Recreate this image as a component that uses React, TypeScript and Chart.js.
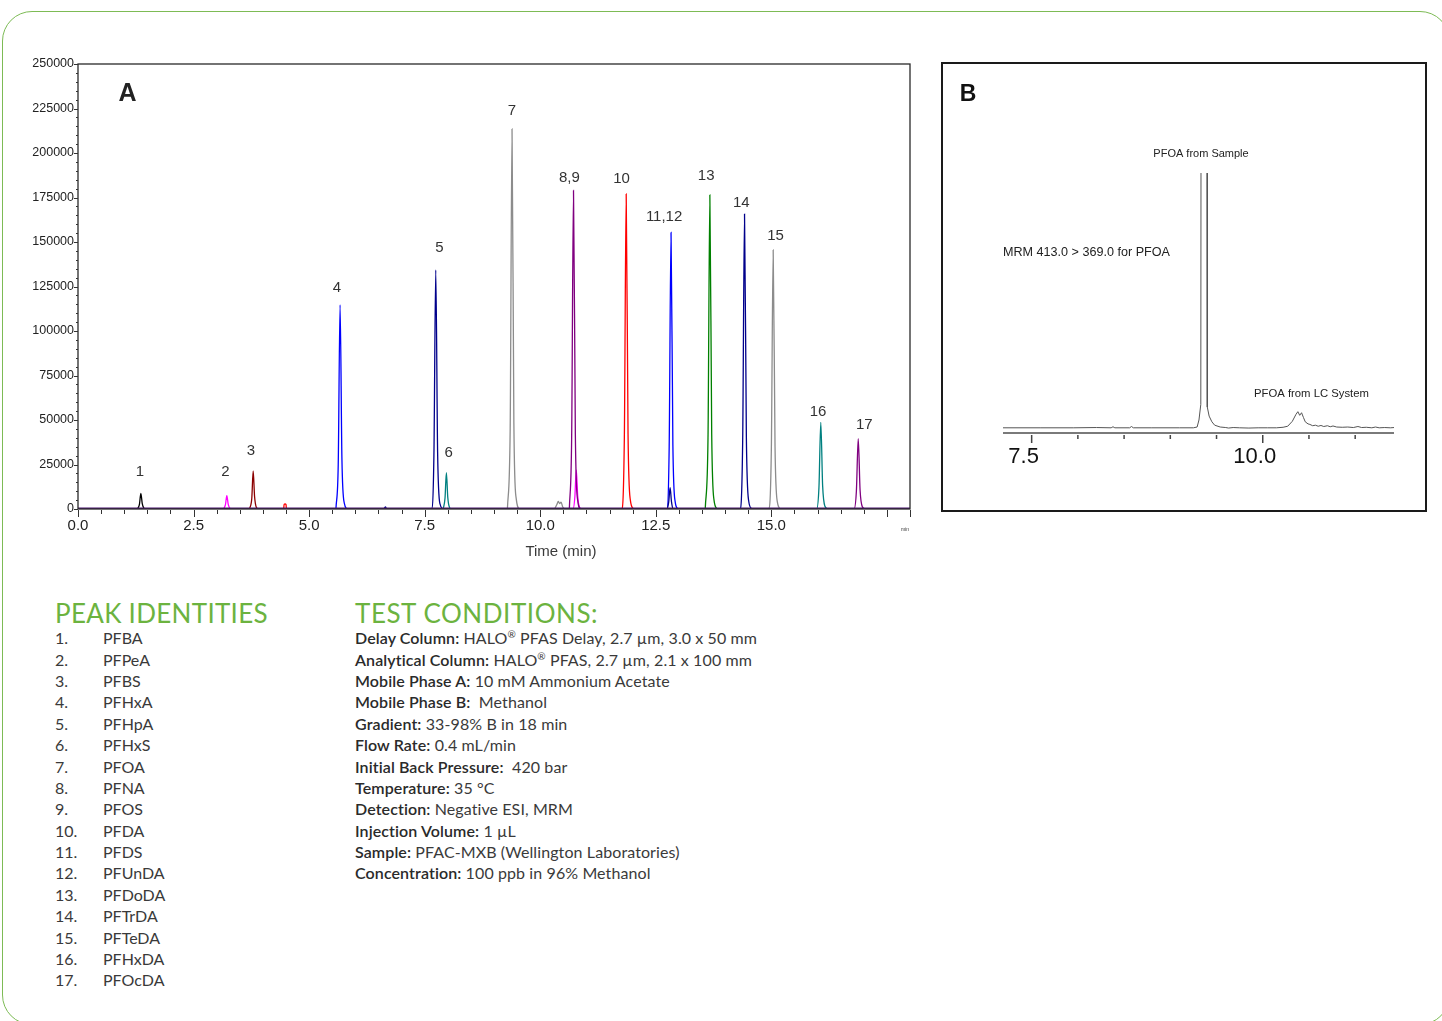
import React, { useEffect, useRef } from "react";
import { Chart, registerables } from "chart.js";

Chart.register(...registerables);

// ---------- Chart A data: time (min), intensity ----------
const baselineTrace = [[0, 0], [18, 0]];
const blackTrace = [[1.29, 0], [1.33, 2800], [1.36, 8800], [1.39, 3000], [1.43, 300], [1.47, 0]];
const magentaTrace = [
  [3.15, 0], [3.19, 2400], [3.22, 7500], [3.25, 2600], [3.29, 300], [3.33, 0],
  [10.71, 0], [10.75, 7000], [10.78, 21900], [10.81, 7500], [10.85, 900], [10.90, 0],
];
const maroonTrace = [[3.71, 0], [3.76, 6000], [3.79, 21350], [3.82, 7000], [3.86, 800], [3.90, 0]];
const redTrace = [
  [4.45, 0], [4.46, 2600], [4.48, 2800], [4.50, 2600], [4.51, 0],
  [11.76, 0], [11.82, 40000], [11.86, 177000], [11.90, 42000], [11.95, 5000], [12.02, 0],
];
const blueTrace = [
  [5.58, 0], [5.63, 25000], [5.67, 114600], [5.71, 28000], [5.76, 3500], [5.84, 0],
  [12.74, 0], [12.79, 35000], [12.83, 155400], [12.87, 36000], [12.92, 4000], [12.98, 0],
];
const navyTrace = [
  [6.62, 0], [6.65, 1200], [6.68, 0],
  [7.65, 0], [7.70, 30000], [7.74, 134300], [7.78, 32000], [7.83, 3000], [7.91, 0],
  [12.74, 0], [12.78, 4000], [12.81, 12000], [12.84, 4000], [12.88, 0],
  [14.32, 0], [14.38, 38000], [14.42, 165700], [14.46, 40000], [14.51, 4500], [14.58, 0],
];
const tealTrace = [
  [7.90, 0], [7.94, 6000], [7.97, 20400], [8.00, 6500], [8.04, 700], [8.08, 0],
  [15.98, 0], [16.03, 12000], [16.07, 48700], [16.11, 13000], [16.16, 1500], [16.22, 0],
];
const grayTrace = [
  [9.29, 0], [9.35, 45000], [9.39, 213500], [9.43, 48000], [9.48, 6000], [9.56, 0],
  [10.30, 0], [10.36, 2500], [10.39, 4200], [10.42, 3000], [10.45, 3800], [10.49, 1000], [10.55, 0],
  [14.94, 0], [15.00, 33000], [15.04, 145500], [15.08, 35000], [15.13, 4000], [15.20, 0],
];
const purpleTrace = [
  [10.63, 0], [10.68, 40000], [10.72, 179000], [10.76, 42000], [10.81, 5000], [10.88, 0],
  [16.79, 0], [16.84, 10000], [16.88, 39500], [16.92, 10500], [16.97, 1200], [17.03, 0],
];
const greenTrace = [[13.57, 0], [13.63, 40000], [13.67, 176400], [13.71, 42000], [13.76, 5000], [13.83, 0]];

const peakLabels = ["1", "2", "3", "4", "5", "6", "7", "8,9", "10", "11,12", "13", "14", "15", "16", "17"];
const labelTimes = [1.34, 3.19, 3.74, 5.60, 7.82, 8.02, 9.39, 10.63, 11.76, 12.68, 13.59, 14.35, 15.09, 16.01, 17.01];
const labelValues = [21100, 21100, 32400, 124500, 146700, 31800, 223600, 186300, 185200, 164000, 187400, 172100, 153700, 54500, 47000];

const xTicksA = { min: 0, max: 18, major: 2.5, minor: 0.5 };
const yTicksA = { min: 0, max: 250000, major: 25000, minor: 5000 };

// ---------- Chart B data: PFOA MRM 413.0 > 369.0 ----------
const pfoaTrace = [
  [7.19, 2.0], [7.60, 2.0], [7.95, 2.0], [8.20, 2.1], [8.36, 2.0], [8.38, 2.4], [8.40, 2.0],
  [8.56, 2.0], [8.58, 2.5], [8.60, 2.0], [8.80, 2.0], [9.10, 2.0], [9.25, 2.0], [9.29, 2.3],
  [9.31, 5.0], [9.33, 11], [9.333, 150], [9.365, 2000], [9.397, 150], [9.40, 10], [9.42, 6.5],
  [9.45, 4.3], [9.48, 3.0], [9.54, 2.3], [9.60, 2.1], [9.63, 1.9], [9.68, 2.1], [9.75, 2.0],
  [9.85, 1.9], [9.95, 2.0], [10.05, 2.0], [10.15, 2.0], [10.22, 2.2], [10.27, 2.6], [10.32, 4.5],
  [10.36, 7.2], [10.38, 8.2], [10.40, 6.8], [10.42, 7.8], [10.44, 6.0], [10.46, 4.3], [10.49, 3.5],
  [10.51, 3.3], [10.54, 2.8], [10.57, 3.0], [10.60, 2.6], [10.63, 2.9], [10.66, 2.5], [10.70, 2.8],
  [10.73, 2.4], [10.76, 2.7], [10.80, 2.3], [10.86, 2.2], [10.92, 2.3], [10.98, 2.1], [11.03, 2.5],
  [11.07, 2.1], [11.12, 2.2], [11.18, 2.0], [11.22, 2.3], [11.26, 2.0], [11.32, 2.1], [11.38, 2.0],
  [11.42, 2.1],
];
const xTicksB = { min: 7.19, max: 11.42, major: 2.5, minor: 0.5, first: 7.5, last: 11.0 };

// ---------- Text ----------
const peakNumbers = ["1.", "2.", "3.", "4.", "5.", "6.", "7.", "8.", "9.", "10.", "11.", "12.", "13.", "14.", "15.", "16.", "17."];
const peakNames = ["PFBA", "PFPeA", "PFBS", "PFHxA", "PFHpA", "PFHxS", "PFOA", "PFNA", "PFOS", "PFDA", "PFDS", "PFUnDA", "PFDoDA", "PFTrDA", "PFTeDA", "PFHxDA", "PFOcDA"];
const conditionLabels = ["Delay Column:", "Analytical Column:", "Mobile Phase A:", "Mobile Phase B:", "Gradient:", "Flow Rate:", "Initial Back Pressure:", "Temperature:", "Detection:", "Injection Volume:", "Sample:", "Concentration:"];
const conditionValues = [
  " HALO\u00AE PFAS Delay, 2.7 \u00B5m, 3.0 x 50 mm",
  " HALO\u00AE PFAS, 2.7 \u00B5m, 2.1 x 100 mm",
  " 10 mM Ammonium Acetate",
  "  Methanol",
  " 33-98% B in 18 min",
  " 0.4 mL/min",
  "  420 bar",
  " 35 \u00B0C",
  " Negative ESI, MRM",
  " 1 \u00B5L",
  " PFAC-MXB (Wellington Laboratories)",
  " 100 ppb in 96% Methanol",
];

const SANS = "'Liberation Sans', Arial, sans-serif";
const BODY = "Lato, 'Noto Sans', sans-serif";
const GREEN = "#6cb33f";

function near(v: number, step: number) {
  const r = v / step;
  return Math.abs(r - Math.round(r)) < 1e-6;
}

function withSup(s: string) {
  const parts = s.split("\u00AE");
  const out: any[] = [];
  parts.forEach((p, i) => {
    out.push(<React.Fragment key={"p" + i}>{p}</React.Fragment>);
    if (i < parts.length - 1)
      out.push(
        <span key={"s" + i} style={{ fontSize: 10, verticalAlign: "6px", lineHeight: 0 }}>
          {"\u00AE"}
        </span>
      );
  });
  return out;
}

function ChartA() {
  const ref = useRef<HTMLCanvasElement | null>(null);
  useEffect(() => {
    if (!ref.current) return;
    const series = [
      { data: baselineTrace, color: "#4a1470", width: 3 },
      { data: purpleTrace, color: "#800080", width: 1.3 },
      { data: tealTrace, color: "#008080", width: 1.3 },
      { data: navyTrace, color: "#00008b", width: 1.3 },
      { data: greenTrace, color: "#008000", width: 1.3 },
      { data: blueTrace, color: "#0000ff", width: 1.3 },
      { data: redTrace, color: "#ff0000", width: 1.3 },
      { data: magentaTrace, color: "#ff00ff", width: 1.3 },
      { data: grayTrace, color: "#8c8c8c", width: 1.3 },
      { data: maroonTrace, color: "#8b0000", width: 1.3 },
      { data: blackTrace, color: "#000000", width: 1.3 },
    ];
    const deco = {
      id: "decoA",
      afterDatasetsDraw(chart: any) {
        const { ctx, chartArea: a, scales } = chart;
        const xs = scales.x, ys = scales.y;
        ctx.save();
        ctx.strokeStyle = "#2a2a2a";
        ctx.lineWidth = 1.3;
        ctx.strokeRect(a.left, a.top, a.right - a.left, a.bottom - a.top);
        ctx.lineWidth = 1;
        ctx.strokeStyle = "#333";
        for (let v = yTicksA.min; v <= yTicksA.max + 1; v += yTicksA.minor) {
          const y = Math.round(ys.getPixelForValue(v)) + 0.5;
          const len = near(v, yTicksA.major) ? 4 : 2;
          ctx.beginPath();
          ctx.moveTo(a.left - len, y);
          ctx.lineTo(a.left, y);
          ctx.stroke();
        }
        for (let t = xTicksA.min; t <= xTicksA.max + 1e-6; t += xTicksA.minor) {
          const x = Math.round(xs.getPixelForValue(t)) + 0.5;
          const len = near(t, xTicksA.major) || t >= xTicksA.max - 1e-6 ? 8 : 5;
          ctx.beginPath();
          ctx.moveTo(x, a.bottom + 1);
          ctx.lineTo(x, a.bottom + len);
          ctx.stroke();
        }
        ctx.fillStyle = "#333";
        ctx.font = `15px ${SANS}`;
        ctx.textAlign = "center";
        ctx.textBaseline = "middle";
        peakLabels.forEach((s, i) => {
          ctx.fillText(s, xs.getPixelForValue(labelTimes[i]), ys.getPixelForValue(labelValues[i]));
        });
        ctx.font = `15px ${SANS}`;
        ctx.fillStyle = "#3a3a3a";
        ctx.fillText("Time (min)", a.left + (a.right - a.left) * 0.5805, a.bottom + 43);
        ctx.font = `5px ${SANS}`;
        ctx.textAlign = "right";
        ctx.fillText("min", a.right - 1, a.bottom + 21);
        ctx.fillStyle = "#222";
        ctx.font = `bold 25px ${SANS}`;
        ctx.textAlign = "center";
        ctx.fillText("A", a.left + 49.5, a.top + 30);
        ctx.restore();
      },
    };
    const chart = new Chart(ref.current, {
      type: "line",
      data: {
        datasets: series.map((s) => ({
          data: s.data as any,
          borderColor: s.color,
          borderWidth: s.width,
          pointRadius: 0,
          fill: false,
          cubicInterpolationMode: "monotone" as const,
        })),
      },
      options: {
        animation: false,
        responsive: false,
        maintainAspectRatio: false,
        layout: { padding: { top: 24, right: 30, left: 0, bottom: 0 } },
        plugins: { legend: { display: false }, tooltip: { enabled: false } },
        scales: {
          x: {
            type: "linear",
            min: xTicksA.min,
            max: xTicksA.max,
            afterFit: (s: any) => { s.height = 71; },
            grid: { display: false, drawTicks: false },
            border: { display: false },
            ticks: {
              stepSize: xTicksA.major,
              autoSkip: false,
              maxRotation: 0,
              padding: 8,
              color: "#222",
              font: { size: 15, family: SANS },
              callback: (v: any) => (Number(v) <= 15.01 ? Number(v).toFixed(1) : ""),
            },
          },
          y: {
            min: yTicksA.min,
            max: yTicksA.max,
            afterFit: (s: any) => { s.width = 78; },
            grid: { display: false, drawTicks: false },
            border: { display: false },
            ticks: {
              stepSize: yTicksA.major,
              padding: 4,
              color: "#222",
              font: { size: 12.5, family: SANS },
              callback: (v: any) => String(v),
            },
          },
        },
      },
      plugins: [deco],
    });
    return () => chart.destroy();
  }, []);
  return (
    <canvas
      ref={ref}
      width={940}
      height={540}
      style={{ position: "absolute", left: 0, top: 40, width: 940, height: 540 }}
    />
  );
}

function ChartB() {
  const ref = useRef<HTMLCanvasElement | null>(null);
  useEffect(() => {
    if (!ref.current) return;
    const deco = {
      id: "decoB",
      afterDatasetsDraw(chart: any) {
        const { ctx, chartArea: a, scales } = chart;
        const xs = scales.x;
        ctx.save();
        ctx.strokeStyle = "#7a7a7a";
        ctx.lineWidth = 2;
        ctx.beginPath();
        ctx.moveTo(a.left, a.bottom);
        ctx.lineTo(a.right, a.bottom);
        ctx.stroke();
        ctx.strokeStyle = "#444";
        ctx.lineWidth = 1.5;
        for (let t = xTicksB.first; t <= xTicksB.last + 1e-6; t += xTicksB.minor) {
          const x = xs.getPixelForValue(t);
          const len = near(t, xTicksB.major) ? 10 : 6;
          ctx.beginPath();
          ctx.moveTo(x, a.bottom + 2);
          ctx.lineTo(x, a.bottom + len);
          ctx.stroke();
        }
        ctx.fillStyle = "#222";
        ctx.textBaseline = "middle";
        ctx.font = `11px ${SANS}`;
        ctx.textAlign = "center";
        ctx.fillText("PFOA from Sample", a.left + 198, a.top - 19);
        ctx.textAlign = "left";
        ctx.font = `12.6px ${SANS}`;
        ctx.fillText("MRM 413.0 > 369.0 for PFOA", a.left, a.top + 80);
        ctx.font = `11.3px ${SANS}`;
        ctx.fillText("PFOA from LC System", a.left + 251, a.top + 221);
        ctx.font = `bold 23px ${SANS}`;
        ctx.textAlign = "center";
        ctx.fillStyle = "#111";
        ctx.fillText("B", 27, 33);
        ctx.restore();
      },
    };
    const chart = new Chart(ref.current, {
      type: "line",
      data: {
        datasets: [
          {
            data: pfoaTrace as any,
            borderColor: "#555",
            borderWidth: 1,
            pointRadius: 0,
            fill: false,
            tension: 0,
          },
        ],
      },
      options: {
        animation: false,
        responsive: false,
        maintainAspectRatio: false,
        layout: { padding: { top: 111, right: 33, left: 62, bottom: 0 } },
        plugins: { legend: { display: false }, tooltip: { enabled: false } },
        scales: {
          x: {
            type: "linear",
            min: xTicksB.min,
            max: xTicksB.max,
            afterFit: (s: any) => { s.height = 79; },
            grid: { display: false, drawTicks: false },
            border: { display: false },
            ticks: {
              stepSize: xTicksB.major,
              includeBounds: false,
              autoSkip: false,
              maxRotation: 0,
              padding: 11,
              labelOffset: -8,
              color: "#111",
              font: { size: 22, family: SANS },
              callback: (v: any) => (near(Number(v), xTicksB.major) ? Number(v).toFixed(1) : ""),
            },
          },
          y: { display: false, min: 0, max: 100 },
        },
      },
      plugins: [deco],
    });
    return () => chart.destroy();
  }, []);
  return (
    <div
      style={{
        position: "absolute",
        left: 941,
        top: 62,
        width: 486,
        height: 450,
        border: "2px solid #1a1a1a",
        boxSizing: "border-box",
      }}
    >
      <canvas
        ref={ref}
        width={486}
        height={450}
        style={{ position: "absolute", left: -2, top: -2, width: 486, height: 450 }}
      />
    </div>
  );
}

export default function App() {
  const rowH = 21.375;
  return (
    <div
      style={{
        position: "absolute",
        left: 0,
        top: 0,
        width: 1442,
        height: 1021,
        overflow: "hidden",
        background: "#fff",
      }}
    >
      <div
        style={{
          position: "absolute",
          left: 2,
          top: 11,
          width: 1448,
          height: 1014,
          border: "1.5px solid #7dbb55",
          borderRadius: 30,
          boxSizing: "border-box",
        }}
      />
      <ChartA />
      <ChartB />
      <div
        style={{
          position: "absolute",
          left: 55,
          top: 597,
          fontFamily: BODY,
          fontSize: 26,
          fontWeight: 400,
          letterSpacing: 0.3,
          lineHeight: "32px",
          color: GREEN,
          whiteSpace: "nowrap",
        }}
      >
        PEAK IDENTITIES
      </div>
      <div
        style={{
          position: "absolute",
          left: 355,
          top: 597,
          fontFamily: BODY,
          fontSize: 26,
          fontWeight: 400,
          letterSpacing: 0.55,
          lineHeight: "32px",
          color: GREEN,
          whiteSpace: "nowrap",
        }}
      >
        TEST CONDITIONS:
      </div>
      {peakNames.map((n, i) => (
        <div
          key={n}
          style={{
            position: "absolute",
            left: 55,
            top: 627.3 + i * rowH,
            height: rowH,
            lineHeight: rowH + "px",
            fontFamily: BODY,
            fontSize: 16,
            color: "#3a3a3a",
            whiteSpace: "nowrap",
          }}
        >
          <span style={{ position: "absolute", left: 0 }}>{peakNumbers[i]}</span>
          <span style={{ position: "absolute", left: 48 }}>{n}</span>
        </div>
      ))}
      {conditionLabels.map((l, i) => (
        <div
          key={l}
          style={{
            position: "absolute",
            left: 355,
            top: 627.3 + i * rowH,
            height: rowH,
            lineHeight: rowH + "px",
            fontFamily: BODY,
            fontSize: 16,
            letterSpacing: 0.1,
            color: "#3a3a3a",
            whiteSpace: "pre",
          }}
        >
          <span style={{ fontWeight: 600, color: "#2a2a2a" }}>{l}</span>
          <span>{withSup(conditionValues[i])}</span>
        </div>
      ))}
    </div>
  );
}
